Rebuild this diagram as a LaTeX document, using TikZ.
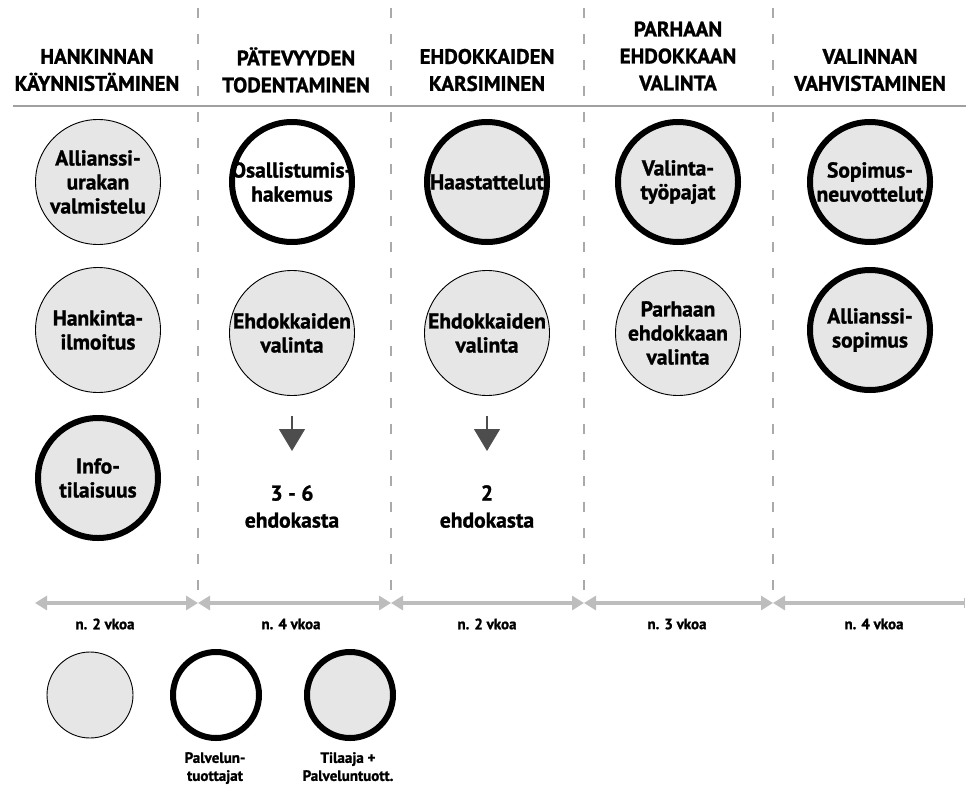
\documentclass[tikz,border=0pt]{standalone}
\usepackage{fontspec}
\setmainfont{PT Sans}[BoldFeatures={FakeBold=1.2}]
\usetikzlibrary{arrows.meta}
\definecolor{discfill}{HTML}{E6E6E6}
\definecolor{dividergray}{HTML}{AAAAAA}
\definecolor{rulegray}{HTML}{A0A0A0}
\definecolor{spangray}{HTML}{BDBDBD}
\definecolor{pointerdark}{HTML}{4D4D4D}
\begin{document}
\begin{tikzpicture}[x=1pt,y=-1pt,
  phase/.style={font=\fontsize{21}{27}\selectfont\bfseries, align=center, inner sep=0pt},
  discbase/.style={circle, inner sep=0pt},
  thindisc/.style={discbase, draw=black, line width=0.9pt, fill=discfill, minimum size=125pt},
  thickdisc/.style={discbase, draw=black, line width=6pt, fill=discfill, minimum size=120pt},
  whitedisc/.style={thickdisc, fill=white},
  disctext/.style={font=\fontsize{21.5}{24}\selectfont\bfseries, align=center, inner sep=0pt},
  counttext/.style={font=\fontsize{21.5}{27}\selectfont\bfseries, align=center, inner sep=0pt, anchor=north},
  divider/.style={draw=dividergray, line width=1.4pt, dash pattern=on 10pt off 16pt},
  span/.style={draw=spangray, line width=3.5pt, {Triangle[length=12pt,width=14pt]}-{Triangle[length=12pt,width=14pt]}},
  lastspan/.style={draw=spangray, line width=3.5pt, {Triangle[length=12pt,width=14pt]}-{Bar[width=10pt,line width=1.5pt]}},
  spantext/.style={font=\fontsize{15}{19}\selectfont\bfseries, align=center, inner sep=0pt},
  pointer/.style={draw=pointerdark, line width=1.5pt, -{Triangle[length=22pt,width=26pt]}},
  legendtext/.style={font=\fontsize{15}{18}\selectfont\bfseries, align=center, inner sep=0pt},
]
\useasboundingbox[fill=white] (0,0) rectangle (966,787);

% column dividers and header rule
\foreach \x in {198,391,584,773}
  \draw[divider] (\x,8) -- (\x,590);
\draw[rulegray, line width=2pt] (13,106) -- (966,106);

% phase headings
\node[phase] (h1) at (97,70)  {HANKINNAN\\KÄYNNISTÄMINEN};
\node[phase] (h2) at (296,70) {PÄTEVYYDEN\\TODENTAMINEN};
\node[phase] (h3) at (487,70) {EHDOKKAIDEN\\KARSIMINEN};
\node[phase] (h4) at (678,56) {PARHAAN\\EHDOKKAAN\\VALINTA};
\node[phase] (h5) at (870,70) {VALINNAN\\VAHVISTAMINEN};

% phase 1
\node[thindisc]  (a1) at (98,182) {};
\node[disctext]  (a1t) at (a1) {Allianssi-\\urakan\\valmistelu};
\node[thindisc]  (a2) at (98,330) {};
\node[disctext]  (a2t) at (a2) {Hankinta-\\ilmoitus};
\node[thickdisc] (a3) at (98,478) {};
\node[disctext]  (a3t) at (a3) {Info-\\tilaisuus};

% phase 2
\node[whitedisc] (b1) at (292,182) {};
\node[disctext]  (b1t) at (b1) {Osallistumis-\\hakemus};
\node[thindisc]  (b2) at (292,333) {};
\node[disctext]  (b2t) at (b2) {Ehdokkaiden\\valinta};
\node[counttext] (b3) at (292,485) {3 - 6\\ehdokasta};
\draw[pointer, shorten <=20pt, shorten >=34pt] (b2.south) -- (b3.north);

% phase 3
\node[thickdisc] (c1) at (487,182) {};
\node[disctext]  (c1t) at (c1) {Haastattelut};
\node[thindisc]  (c2) at (487,333) {};
\node[disctext]  (c2t) at (c2) {Ehdokkaiden\\valinta};
\node[counttext] (c3) at (487,485) {2\\ehdokasta};
\draw[pointer, shorten <=20pt, shorten >=34pt] (c2.south) -- (c3.north);

% phase 4
\node[thickdisc] (d1) at (678,182) {};
\node[disctext]  (d1t) at (d1) {Valinta-\\työpajat};
\node[thindisc]  (d2) at (678,333) {};
\node[disctext]  (d2t) at (d2) {Parhaan\\ehdokkaan\\valinta};

% phase 5
\node[thickdisc] (e1) at (870,182) {};
\node[disctext]  (e1t) at (e1) {Sopimus-\\neuvottelut};
\node[thickdisc] (e2) at (870,330) {};
\node[disctext]  (e2t) at (e2) {Allianssi-\\sopimus};

% duration spans
\coordinate (t0) at (35,603);
\coordinate (t1) at (198,603);
\coordinate (t2) at (391,603);
\coordinate (t3) at (584,603);
\coordinate (t4) at (773,603);
\coordinate (t5) at (965,603);
\draw[span] (t0) -- (t1);
\draw[span] (t1) -- (t2);
\draw[span] (t2) -- (t3);
\draw[span] (t3) -- (t4);
\draw[lastspan] (t4) -- (t5);
\node[spantext] (s1) at (105,624) {n. 2 vkoa};
\node[spantext] (s2) at (291,624) {n. 4 vkoa};
\node[spantext] (s3) at (487,624) {n. 2 vkoa};
\node[spantext] (s4) at (677,624) {n. 3 vkoa};
\node[spantext] (s5) at (874,624) {n. 4 vkoa};

% legend
\node[thindisc, minimum size=86pt]  (l1) at (90,695) {};
\node[whitedisc, minimum size=86pt] (l2) at (216,695) {};
\node[thickdisc, minimum size=86pt] (l3) at (350,695) {};
\node[legendtext, anchor=north] (l2t) at (215,752) {Palvelun-\\tuottajat};
\node[legendtext, anchor=north] (l3t) at (348,752) {Tilaaja +\\Palveluntuott.};
\end{tikzpicture}
\end{document}
